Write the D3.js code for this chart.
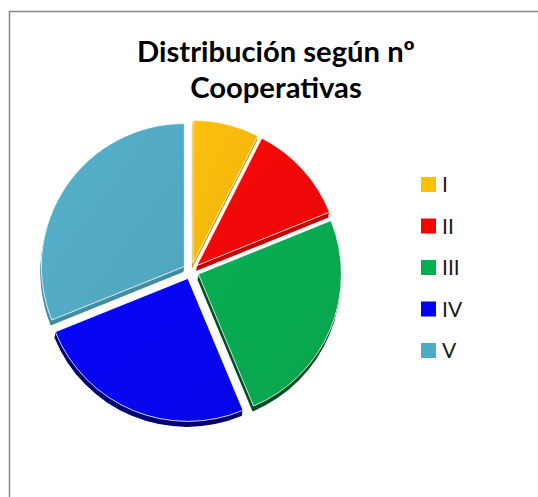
<!DOCTYPE html>
<html><head><meta charset="utf-8">
<script src="https://cdn.jsdelivr.net/npm/d3@7"></script>
<style>html,body{margin:0;padding:0;background:#fff;}svg{display:block;}</style>
</head><body>
<svg id="c" width="538" height="497"></svg>
<script>
const categories = ["I", "II", "III", "IV", "V"];
const values = [7.5, 11.4, 24.8, 25.2, 31.1];
const legendColors = ["#FFC000", "#FF0000", "#00B050", "#0000FF", "#4BACC6"];
const faceColors = ["#F4B80C", "#F00808", "#08A850", "#0606F0", "#52AAC3"];
const sideColors = ["#D49C00", "#C80000", "#004F22", "#000070", "#418EA3"];
const titleLines = ["Distribución según nº", "Cooperativas"];

const svg = d3.select("#c");
svg.append("rect").attr("x", 9.5).attr("y", 11.5).attr("width", 540).attr("height", 500)
  .attr("fill", "#fff").attr("stroke", "#8c8c8c").attr("stroke-width", 1.5);

const defs = svg.append("defs");
faceColors.forEach((c, i) => {
  const g = defs.append("linearGradient").attr("id", "g" + i)
    .attr("x1", "0%").attr("y1", "0%").attr("x2", "100%").attr("y2", "100%");
  g.append("stop").attr("offset", "0%").attr("stop-color", d3.color(c).brighter(0.12));
  g.append("stop").attr("offset", "100%").attr("stop-color", d3.color(c).darker(0.08));
});

// title
const title = svg.append("g");
titleLines.forEach((t, i) => {
  title.append("text").attr("x", 276).attr("y", 61.5 + i * 36)
    .attr("text-anchor", "middle").attr("font-family", "Lato, 'Open Sans', sans-serif")
    .attr("font-weight", "bold").attr("font-size", 24).attr("fill", "#000").text(t);
});
const t0 = title.select("text").node();
const w0 = t0.getComputedTextLength();
const fs = 24 * 278 / w0;
title.selectAll("text").attr("font-size", fs);

// pie
const cx = 191, cy = 271, R = 143, explode = 8;
const pie = d3.pie().sort(null).value(d => d)
  .startAngle(0).endAngle(2 * Math.PI);
const arcs = pie(values);
const arc = d3.arc().innerRadius(0).outerRadius(R);
const pg = svg.append("g").attr("transform", `translate(${cx},${cy})`);

function off(d) {
  const a = (d.startAngle + d.endAngle) / 2;
  return [explode * Math.sin(a), -explode * Math.cos(a)];
}
// side (extrusion)
const depth = [[-0.3, 1.5], [-0.6, 3], [-0.8, 4.5], [-1, 5.5]];
depth.forEach(([dx, dy]) => {
  pg.selectAll(null).data(arcs).enter().append("path")
    .attr("d", arc)
    .attr("transform", d => { const o = off(d); return `translate(${o[0] + dx},${o[1] + dy})`; })
    .attr("fill", (d, i) => sideColors[i]);
});
// faces
pg.selectAll(null).data(arcs).enter().append("path")
  .attr("d", arc)
  .attr("transform", d => { const o = off(d); return `translate(${o[0]},${o[1]})`; })
  .attr("fill", (d, i) => `url(#g${i})`)
  .attr("stroke", "#fff").attr("stroke-width", 1).attr("stroke-opacity", 0.8);

// legend
const y = d3.scalePoint().domain(categories).range([184.5, 350.5]);
const lg = svg.append("g");
categories.forEach((c, i) => {
  lg.append("rect").attr("x", 421).attr("y", y(c) - 7.5).attr("width", 15).attr("height", 15)
    .attr("fill", legendColors[i]);
  lg.append("text").attr("x", 442).attr("y", y(c) + 7.5)
    .attr("font-family", "Lato, 'Open Sans', sans-serif").attr("font-size", 21)
    .attr("fill", "#1a1a1a").text(c);
});
</script>
</body></html>
